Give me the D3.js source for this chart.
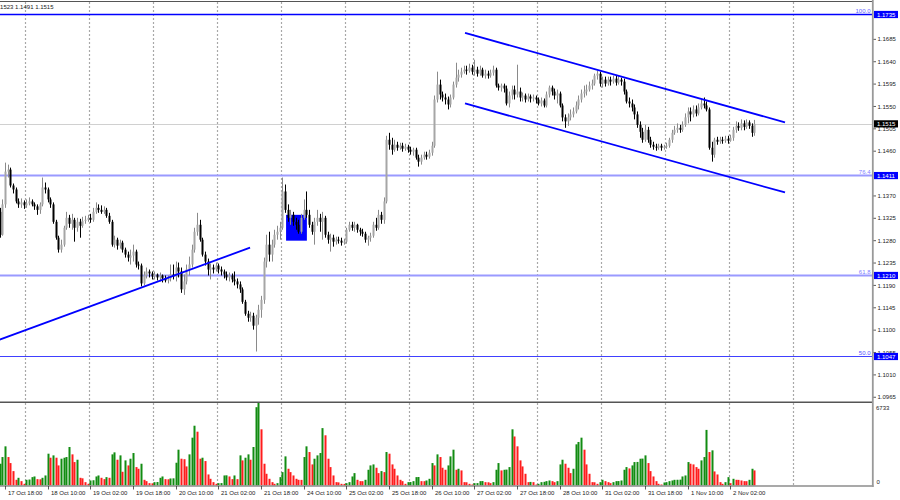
<!DOCTYPE html>
<html><head><meta charset="utf-8">
<script src="https://cdn.jsdelivr.net/npm/d3@7"></script>
<style>body{margin:0;background:#fff}svg{display:block}text{font-family:"Liberation Sans",Arial,sans-serif}</style>
</head><body><svg id="c" width="900" height="500"></svg>
<script>
// ---- DATA (EURUSD H1) ----
const open = [
1.1338,1.1292,1.1353,1.1419,1.1423,1.1391,1.1383,1.1359,1.1353,1.1357,
1.1351,1.1355,1.1359,1.1353,1.1349,1.1342,1.1353,1.1387,1.1383,1.1363,
1.1353,1.1318,1.1286,1.1262,1.1272,1.1306,1.1326,1.1314,1.1322,1.1306,
1.1318,1.1310,1.1320,1.1322,1.1326,1.1322,1.1338,1.1346,1.1342,1.1338,
1.1342,1.1330,1.1318,1.1272,1.1282,1.1270,1.1276,1.1262,1.1252,1.1246,
1.1250,1.1258,1.1232,1.1230,1.1194,1.1210,1.1218,1.1214,1.1208,1.1212,
1.1206,1.1210,1.1204,1.1200,1.1204,1.1212,1.1208,1.1226,1.1218,1.1182,
1.1198,1.1222,1.1232,1.1262,1.1298,1.1312,1.1282,1.1252,1.1238,1.1222,
1.1226,1.1222,1.1230,1.1222,1.1218,1.1212,1.1206,1.1210,1.1202,1.1198,
1.1192,1.1182,1.1157,1.1133,1.1125,1.1129,1.1109,1.1125,1.1141,1.1161,
1.1238,1.1272,1.1252,1.1272,1.1292,1.1298,1.1306,1.1379,1.1342,1.1326,
1.1332,1.1318,1.1312,1.1298,1.1326,1.1342,1.1332,1.1312,1.1298,1.1318,
1.1326,1.1318,1.1326,1.1292,1.1282,1.1286,1.1278,1.1282,1.1280,1.1276,
1.1278,1.1302,1.1312,1.1306,1.1312,1.1302,1.1298,1.1294,1.1282,1.1286,
1.1290,1.1312,1.1306,1.1332,1.1322,1.1359,1.1483,1.1473,1.1463,1.1473,
1.1467,1.1471,1.1465,1.1469,1.1463,1.1459,1.1463,1.1447,1.1439,1.1447,
1.1453,1.1449,1.1457,1.1471,1.1564,1.1594,1.1574,1.1568,1.1564,1.1554,
1.1568,1.1594,1.1608,1.1614,1.1620,1.1624,1.1622,1.1628,1.1620,1.1624,
1.1616,1.1624,1.1612,1.1616,1.1612,1.1618,1.1624,1.1592,1.1588,1.1592,
1.1586,1.1556,1.1572,1.1584,1.1574,1.1580,1.1568,1.1572,1.1564,1.1570,
1.1566,1.1568,1.1564,1.1556,1.1562,1.1552,1.1574,1.1588,1.1580,1.1572,
1.1576,1.1552,1.1528,1.1520,1.1528,1.1534,1.1540,1.1552,1.1564,1.1576,
1.1580,1.1584,1.1592,1.1596,1.1612,1.1616,1.1596,1.1604,1.1596,1.1604,
1.1600,1.1606,1.1598,1.1604,1.1600,1.1580,1.1560,1.1556,1.1548,1.1534,
1.1513,1.1499,1.1483,1.1503,1.1483,1.1473,1.1469,1.1467,1.1471,1.1467,
1.1469,1.1471,1.1483,1.1497,1.1503,1.1507,1.1503,1.1513,1.1528,1.1540,
1.1534,1.1544,1.1536,1.1548,1.1556,1.1552,1.1544,1.1467,1.1453,1.1483,
1.1479,1.1483,1.1481,1.1485,1.1481,1.1487,1.1503,1.1511,1.1507,1.1516,
1.1509,1.1518,1.1511,1.1497];
const high = [
1.1346,1.1363,1.1437,1.1433,1.1427,1.1395,1.1387,1.1365,1.1365,1.1361,
1.1363,1.1367,1.1363,1.1357,1.1353,1.1357,1.1407,1.1397,1.1387,1.1367,
1.1357,1.1322,1.1290,1.1282,1.1310,1.1338,1.1332,1.1334,1.1326,1.1326,
1.1324,1.1328,1.1330,1.1332,1.1334,1.1346,1.1357,1.1353,1.1351,1.1349,
1.1346,1.1336,1.1322,1.1290,1.1286,1.1282,1.1280,1.1266,1.1258,1.1262,
1.1272,1.1262,1.1238,1.1234,1.1218,1.1226,1.1222,1.1218,1.1218,1.1214,
1.1216,1.1212,1.1210,1.1210,1.1232,1.1232,1.1238,1.1236,1.1226,1.1212,
1.1232,1.1248,1.1272,1.1306,1.1336,1.1322,1.1286,1.1258,1.1244,1.1234,
1.1232,1.1236,1.1234,1.1228,1.1222,1.1218,1.1216,1.1214,1.1218,1.1204,
1.1198,1.1186,1.1161,1.1139,1.1137,1.1135,1.1131,1.1151,1.1169,1.1246,
1.1292,1.1298,1.1282,1.1302,1.1310,1.1318,1.1407,1.1393,1.1353,1.1342,
1.1338,1.1326,1.1322,1.1334,1.1363,1.1379,1.1342,1.1318,1.1326,1.1342,
1.1334,1.1338,1.1330,1.1298,1.1294,1.1292,1.1288,1.1288,1.1286,1.1284,
1.1306,1.1318,1.1318,1.1318,1.1314,1.1306,1.1304,1.1298,1.1290,1.1296,
1.1318,1.1326,1.1342,1.1338,1.1367,1.1491,1.1497,1.1487,1.1483,1.1479,
1.1477,1.1477,1.1475,1.1473,1.1469,1.1467,1.1467,1.1453,1.1453,1.1459,
1.1459,1.1463,1.1479,1.1572,1.1620,1.1604,1.1580,1.1576,1.1570,1.1574,
1.1600,1.1638,1.1624,1.1628,1.1632,1.1632,1.1636,1.1634,1.1644,1.1630,
1.1632,1.1628,1.1624,1.1622,1.1624,1.1632,1.1628,1.1596,1.1596,1.1596,
1.1592,1.1580,1.1592,1.1592,1.1634,1.1588,1.1578,1.1576,1.1576,1.1574,
1.1574,1.1572,1.1568,1.1568,1.1566,1.1580,1.1592,1.1592,1.1586,1.1584,
1.1580,1.1556,1.1534,1.1536,1.1544,1.1548,1.1560,1.1572,1.1584,1.1592,
1.1594,1.1600,1.1604,1.1616,1.1622,1.1620,1.1610,1.1610,1.1610,1.1610,
1.1612,1.1612,1.1612,1.1608,1.1606,1.1584,1.1568,1.1564,1.1554,1.1540,
1.1520,1.1507,1.1513,1.1509,1.1489,1.1479,1.1475,1.1475,1.1475,1.1473,
1.1477,1.1487,1.1503,1.1511,1.1516,1.1513,1.1520,1.1536,1.1548,1.1548,
1.1552,1.1552,1.1556,1.1564,1.1568,1.1560,1.1548,1.1479,1.1487,1.1489,
1.1489,1.1489,1.1491,1.1491,1.1493,1.1509,1.1520,1.1518,1.1524,1.1522,
1.1524,1.1522,1.1516,1.1523];
const low = [
1.1286,1.1290,1.1346,1.1407,1.1387,1.1375,1.1355,1.1346,1.1346,1.1344,
1.1346,1.1351,1.1349,1.1342,1.1332,1.1334,1.1349,1.1375,1.1357,1.1346,
1.1314,1.1282,1.1256,1.1256,1.1268,1.1302,1.1306,1.1302,1.1278,1.1298,
1.1286,1.1306,1.1314,1.1318,1.1316,1.1318,1.1334,1.1336,1.1334,1.1334,
1.1326,1.1314,1.1268,1.1266,1.1262,1.1264,1.1256,1.1246,1.1238,1.1232,
1.1238,1.1226,1.1222,1.1188,1.1190,1.1204,1.1206,1.1202,1.1202,1.1200,
1.1198,1.1196,1.1196,1.1194,1.1198,1.1202,1.1198,1.1206,1.1175,1.1171,
1.1192,1.1210,1.1226,1.1256,1.1290,1.1278,1.1248,1.1230,1.1210,1.1202,
1.1214,1.1218,1.1214,1.1210,1.1204,1.1200,1.1198,1.1196,1.1190,1.1184,
1.1175,1.1153,1.1129,1.1117,1.1117,1.1101,1.1057,1.1111,1.1125,1.1153,
1.1226,1.1238,1.1238,1.1266,1.1282,1.1282,1.1302,1.1336,1.1318,1.1312,
1.1310,1.1302,1.1294,1.1294,1.1322,1.1326,1.1306,1.1292,1.1272,1.1310,
1.1298,1.1282,1.1286,1.1274,1.1258,1.1268,1.1272,1.1274,1.1270,1.1272,
1.1274,1.1298,1.1300,1.1298,1.1296,1.1290,1.1288,1.1276,1.1270,1.1278,
1.1286,1.1300,1.1302,1.1314,1.1314,1.1355,1.1463,1.1453,1.1459,1.1461,
1.1463,1.1459,1.1461,1.1457,1.1453,1.1451,1.1443,1.1429,1.1433,1.1443,
1.1443,1.1445,1.1451,1.1467,1.1558,1.1564,1.1560,1.1554,1.1544,1.1548,
1.1564,1.1588,1.1600,1.1608,1.1616,1.1614,1.1618,1.1614,1.1612,1.1610,
1.1612,1.1608,1.1606,1.1606,1.1608,1.1612,1.1588,1.1582,1.1580,1.1578,
1.1552,1.1548,1.1564,1.1564,1.1568,1.1560,1.1560,1.1558,1.1560,1.1558,
1.1560,1.1556,1.1552,1.1550,1.1548,1.1548,1.1568,1.1572,1.1564,1.1556,
1.1548,1.1520,1.1507,1.1511,1.1522,1.1528,1.1536,1.1544,1.1558,1.1568,
1.1572,1.1580,1.1584,1.1592,1.1604,1.1590,1.1588,1.1590,1.1592,1.1592,
1.1596,1.1592,1.1594,1.1592,1.1574,1.1556,1.1548,1.1540,1.1524,1.1507,
1.1487,1.1477,1.1479,1.1477,1.1467,1.1463,1.1461,1.1463,1.1461,1.1463,
1.1465,1.1467,1.1477,1.1493,1.1497,1.1497,1.1499,1.1509,1.1516,1.1520,
1.1528,1.1530,1.1532,1.1544,1.1546,1.1540,1.1463,1.1439,1.1447,1.1473,
1.1475,1.1475,1.1477,1.1475,1.1479,1.1481,1.1497,1.1501,1.1502,1.1502,
1.1505,1.1505,1.1489,1.1491];
const close = [
1.1292,1.1353,1.1419,1.1423,1.1391,1.1383,1.1359,1.1353,1.1357,1.1351,
1.1355,1.1359,1.1353,1.1349,1.1342,1.1353,1.1387,1.1383,1.1363,1.1353,
1.1318,1.1286,1.1262,1.1272,1.1306,1.1326,1.1314,1.1322,1.1306,1.1318,
1.1310,1.1320,1.1322,1.1326,1.1322,1.1338,1.1346,1.1342,1.1338,1.1342,
1.1330,1.1318,1.1272,1.1282,1.1270,1.1276,1.1262,1.1252,1.1246,1.1250,
1.1258,1.1232,1.1230,1.1194,1.1210,1.1218,1.1214,1.1208,1.1212,1.1206,
1.1210,1.1204,1.1200,1.1204,1.1212,1.1208,1.1226,1.1218,1.1182,1.1198,
1.1222,1.1232,1.1262,1.1298,1.1312,1.1282,1.1252,1.1238,1.1222,1.1226,
1.1222,1.1230,1.1222,1.1218,1.1212,1.1206,1.1210,1.1202,1.1198,1.1192,
1.1182,1.1157,1.1133,1.1125,1.1129,1.1109,1.1125,1.1141,1.1161,1.1238,
1.1272,1.1252,1.1272,1.1292,1.1298,1.1306,1.1379,1.1342,1.1326,1.1332,
1.1318,1.1312,1.1298,1.1326,1.1342,1.1332,1.1312,1.1298,1.1318,1.1326,
1.1318,1.1326,1.1292,1.1282,1.1286,1.1278,1.1282,1.1280,1.1276,1.1278,
1.1302,1.1312,1.1306,1.1312,1.1302,1.1298,1.1294,1.1282,1.1286,1.1290,
1.1312,1.1306,1.1332,1.1322,1.1359,1.1483,1.1473,1.1463,1.1473,1.1467,
1.1471,1.1465,1.1469,1.1463,1.1459,1.1463,1.1447,1.1439,1.1447,1.1453,
1.1449,1.1457,1.1471,1.1564,1.1594,1.1574,1.1568,1.1564,1.1554,1.1568,
1.1594,1.1608,1.1614,1.1620,1.1624,1.1622,1.1628,1.1620,1.1624,1.1616,
1.1624,1.1612,1.1616,1.1612,1.1618,1.1624,1.1592,1.1588,1.1592,1.1586,
1.1556,1.1572,1.1584,1.1574,1.1580,1.1568,1.1572,1.1564,1.1570,1.1566,
1.1568,1.1564,1.1556,1.1562,1.1552,1.1574,1.1588,1.1580,1.1572,1.1576,
1.1552,1.1528,1.1520,1.1528,1.1534,1.1540,1.1552,1.1564,1.1576,1.1580,
1.1584,1.1592,1.1596,1.1612,1.1616,1.1596,1.1604,1.1596,1.1604,1.1600,
1.1606,1.1598,1.1604,1.1600,1.1580,1.1560,1.1556,1.1548,1.1534,1.1513,
1.1499,1.1483,1.1503,1.1483,1.1473,1.1469,1.1467,1.1471,1.1467,1.1469,
1.1471,1.1483,1.1497,1.1503,1.1507,1.1503,1.1513,1.1528,1.1540,1.1534,
1.1544,1.1536,1.1548,1.1556,1.1552,1.1544,1.1467,1.1453,1.1483,1.1479,
1.1483,1.1481,1.1485,1.1481,1.1487,1.1503,1.1511,1.1507,1.1516,1.1509,
1.1518,1.1511,1.1497,1.1515];
const volume = [
1820,2380,3276,2380,1876,1204,476,644,364,140,
476,500,700,756,532,520,644,840,2660,2324,
2520,2324,1680,2240,2324,2380,3220,2604,1960,2156,
644,600,280,140,420,440,756,840,644,532,
700,644,2604,2772,2156,2520,1148,2100,1680,2240,
2716,1540,1400,1820,476,364,196,180,280,290,
644,756,532,520,588,600,1904,2996,2240,2200,
1596,2604,4000,5000,4500,2240,2324,2044,924,560,
280,140,196,200,840,850,756,532,840,532,
2520,2100,2324,2604,2156,3220,6550,7000,4700,1820,
980,560,280,140,196,700,1120,2436,1400,1120,
840,560,476,470,2380,3276,2800,1764,2240,2520,
2716,4800,4200,2240,1540,840,280,260,140,130,
196,280,756,1036,476,364,360,476,1316,1680,
1764,1484,1036,1204,1120,2800,2660,1764,1400,840,
476,364,140,280,290,364,700,710,364,360,
420,560,1876,1680,2604,2380,1484,1316,1680,2436,
2996,1316,1400,1260,280,270,140,84,196,200,
364,370,280,270,196,280,1316,1876,1260,1316,
1330,1540,4700,4100,3276,2100,1596,980,280,300,
280,84,140,280,308,364,420,364,280,364,
1764,2156,1820,1484,1036,1400,3444,3640,4000,2996,
1764,980,280,270,140,280,476,364,280,196,
280,364,370,420,1316,1540,1428,1680,1960,1970,
2240,2250,2520,1876,1204,756,364,140,84,252,
280,364,420,476,480,490,756,840,1960,1820,
1764,1540,1400,2100,2380,4650,2800,2940,1176,924,
280,140,280,700,196,560,476,470,420,364,
360,476,1400,1260];
// time-axis labels (every 16 H1 bars, first one at bar -14)
const timeLabels = ["17 Oct 02:00","17 Oct 18:00","18 Oct 10:00","19 Oct 02:00","19 Oct 18:00","20 Oct 10:00","21 Oct 02:00","21 Oct 18:00","24 Oct 10:00","25 Oct 02:00","25 Oct 18:00","26 Oct 10:00","27 Oct 02:00","27 Oct 18:00","28 Oct 10:00","31 Oct 02:00","31 Oct 18:00","1 Nov 10:00","2 Nov 02:00"];
const timeLabelFirstBar = -14, barsPerLabel = 16;
// Fibonacci levels
const fibLevels = ["100.0","76.4","61.8","50.0"];
const fibPrices = [1.1735, 1.1411, 1.1210, 1.1047];
// price axis ticks (1.1415 and 1.1730 sit under the level boxes and are not shown)
const priceTicks = [1.0965,1.1010,1.1055,1.1100,1.1145,1.1190,1.1235,1.1280,1.1325,1.1370,1.1460,1.1505,1.1550,1.1595,1.1640,1.1685];
const volMax = 6733;
// drawn objects (bar index, price)
const supportLine = [[0, 1.1081],[93.9, 1.1266]];
const channelUpper = [[174.5, 1.1698],[294.5, 1.1518]];
const channelLower = [[174.5, 1.1556],[294.5, 1.1377]];
const zoneBars = [107.4, 115.2], zonePrices = [1.1332, 1.1280];

// ---- LAYOUT ----
const svg = d3.select("#c");
const R = 872.5, mainTop = 2, mainBot = 401.5, volTop = 403, volBot = 485.5;
const step = 2.6667;
const x = d3.scaleLinear().domain([0, 327]).range([-0.33, -0.33 + 327*step]);
const y = d3.scaleLinear().domain([1.1735, 1.1047]).range([14.5, 356.5]);
const yv = d3.scaleLinear().domain([0, volMax]).range([volBot, 405]);
const N = close.length;

const defs = svg.append("defs");
defs.append("clipPath").attr("id","cm").append("rect").attr("x",0).attr("y",mainTop).attr("width",R).attr("height",mainBot-mainTop);
defs.append("clipPath").attr("id","cv").append("rect").attr("x",0).attr("y",volTop).attr("width",R).attr("height",volBot-volTop);

const gm = svg.append("g").attr("clip-path","url(#cm)");
const gv = svg.append("g").attr("clip-path","url(#cv)");

// vertical grid
const gridIdx = d3.range(13).map(k => 9.5 + 24*k);
[[gm,mainTop,mainBot],[gv,volTop,volBot]].forEach(([g,t,b]) => {
  g.selectAll(null).data(gridIdx).join("line")
    .attr("x1",d=>Math.round(x(d))+0.5).attr("x2",d=>Math.round(x(d))+0.5)
    .attr("y1",t).attr("y2",b)
    .attr("stroke","#a8a8a8").attr("stroke-width",1.2).attr("stroke-dasharray","2,2");
});

// fib lines
const fibStyle = [{c:"#0000ff",w:1.6},{c:"#9a9aff",w:2},{c:"#9a9aff",w:2},{c:"#4040ff",w:1.2}];
fibPrices.forEach((p,k)=>{
  gm.append("line").attr("x1",0).attr("x2",R).attr("y1",y(p)).attr("y2",y(p))
    .attr("stroke",fibStyle[k].c).attr("stroke-width",fibStyle[k].w);
});
// current price line
const last = close[N-1];
gm.append("line").attr("x1",0).attr("x2",R).attr("y1",Math.round(y(last))+0.5).attr("y2",Math.round(y(last))+0.5)
  .attr("stroke","#d0d0d0").attr("stroke-width",1);

// zone rectangle
gm.append("rect").attr("x",x(zoneBars[0])).attr("width",x(zoneBars[1])-x(zoneBars[0]))
  .attr("y",y(zonePrices[0])).attr("height",y(zonePrices[1])-y(zonePrices[0])).attr("fill","#0000ff");

// candles
const bars = d3.range(N);
const bull = i => close[i] >= open[i];
gm.selectAll(".wick").data(bars).join("line").attr("class","wick")
  .attr("x1",i=>Math.round(x(i))+0.5).attr("x2",i=>Math.round(x(i))+0.5)
  .attr("y1",i=>y(high[i])).attr("y2",i=>y(low[i]))
  .attr("stroke",i=>bull(i)?"#8a8a8a":"#000").attr("stroke-width",1);
gm.selectAll(".body").data(bars).join("rect").attr("class","body")
  .attr("x",i=>Math.round(x(i))-0.5).attr("width",2)
  .attr("y",i=>y(Math.max(open[i],close[i])))
  .attr("height",i=>Math.max(1,Math.abs(y(open[i])-y(close[i]))))
  .attr("fill",i=>bull(i)?"#a6a6a6":"#000");

// trend lines
[supportLine, channelUpper, channelLower].forEach(seg=>{
  gm.append("line").attr("x1",x(seg[0][0])).attr("y1",y(seg[0][1]))
    .attr("x2",x(seg[1][0])).attr("y2",y(seg[1][1]))
    .attr("stroke","#0000ff").attr("stroke-width",1.8);
});

// fib level labels
const fs = 6;
const fibTextCol = ["#6060ff","#8080ff","#8080ff","#5050ff"];
fibPrices.forEach((p,k)=>{
  svg.append("text").attr("x",R-2).attr("y",y(p)-1.5).attr("text-anchor","end")
    .attr("font-size",fs).attr("fill",fibTextCol[k]).text(fibLevels[k]);
});

// volumes
gv.selectAll(".vol").data(bars).join("rect").attr("class","vol")
  .attr("x",i=>Math.round(x(i))-0.5).attr("width",2)
  .attr("y",i=>yv(volume[i])).attr("height",i=>volBot-yv(volume[i]))
  .attr("fill",i=> (i===0 || volume[i] > volume[i-1]) ? "#128c12" : "#ff1c1c");

// frame lines
svg.append("line").attr("x1",0).attr("x2",R).attr("y1",1.5).attr("y2",1.5).attr("stroke","#555").attr("stroke-width",1);
svg.append("line").attr("x1",0).attr("x2",R).attr("y1",402.2).attr("y2",402.2).attr("stroke","#555").attr("stroke-width",1.4);
svg.append("line").attr("x1",0).attr("x2",R+1).attr("y1",486).attr("y2",486).attr("stroke","#555").attr("stroke-width",1.2);
svg.append("line").attr("x1",R+0.3).attr("x2",R+0.3).attr("y1",0).attr("y2",487).attr("stroke","#999").attr("stroke-width",1.8);

// price axis
const ga = svg.append("g");
priceTicks.forEach(p=>{
  const yy = y(p);
  ga.append("line").attr("x1",R+1).attr("x2",R+3.5).attr("y1",yy).attr("y2",yy).attr("stroke","#333").attr("stroke-width",0.8);
  ga.append("text").attr("x",R+5).attr("y",yy+2.1).attr("font-size",fs).attr("fill","#222").text(p.toFixed(4));
});
// price boxes
function box(p, col){
  const yy = y(p);
  svg.append("rect").attr("x",R+1.5).attr("y",yy-3.6).attr("width",24).attr("height",7.2).attr("fill",col);
  svg.append("text").attr("x",R+4.5).attr("y",yy+2.1).attr("font-size",fs).attr("fill","#fff").text(p.toFixed(4));
}
fibPrices.forEach(p=>box(p,"#0000ff"));
box(last,"#000");

// volume axis labels
svg.append("text").attr("x",R+3.5).attr("y",409.5).attr("font-size",fs).attr("fill","#222").text(String(volMax));
svg.append("text").attr("x",R+4).attr("y",483.5).attr("font-size",fs).attr("fill","#222").text("0");

// time axis
timeLabels.forEach((t,k)=>{
  const xi = Math.round(x(timeLabelFirstBar + barsPerLabel*k))+0.5;
  svg.append("line").attr("x1",xi).attr("x2",xi).attr("y1",486).attr("y2",489.5).attr("stroke","#333").attr("stroke-width",0.8);
  svg.append("text").attr("x",xi+2.5).attr("y",494.6).attr("font-size",fs).attr("fill","#222").text(t);
});

// header: last bar O H L C (partly off-screen on the left)
svg.append("text").attr("x",53.5).attr("y",9.4).attr("text-anchor","end").attr("font-size",fs).attr("fill","#222")
  .text([open[N-1],high[N-1],low[N-1],close[N-1]].map(v=>v.toFixed(4)).join(" "));
</script></body></html>
